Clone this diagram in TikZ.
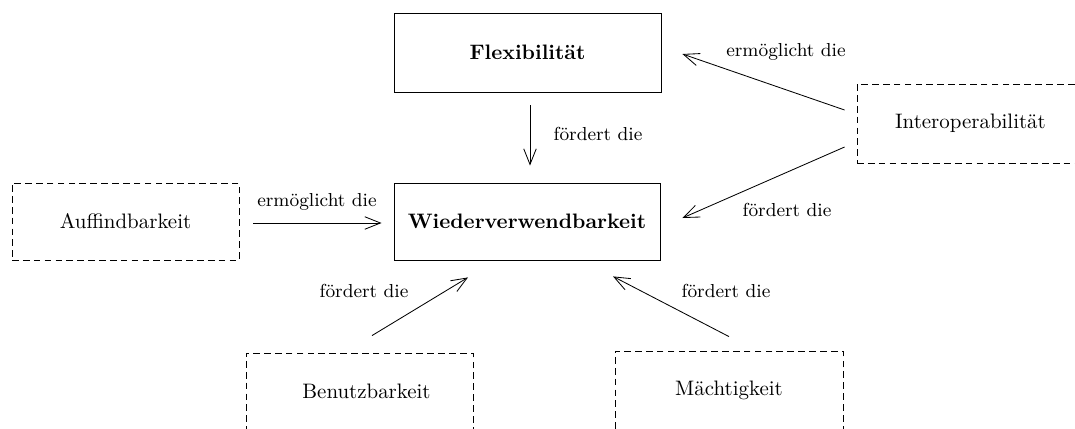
\documentclass[tikz,border=0pt]{standalone}
\usetikzlibrary{arrows.meta}
\newcommand{\pxu}{0.478pt}
\begin{document}
\begin{tikzpicture}[x=0.478pt,y=-0.478pt,
  solidbox/.style={draw, line width=0.4pt, inner sep=0pt, font=\bfseries},
  dashbox/.style={draw, line width=0.4pt, inner sep=0pt, dash pattern=on 3.2pt off 2pt},
  rel/.style={line width=0.4pt, -{Straight Barb[length=7.5pt,width=6pt]}},
  lbl/.style={font=\small, inner sep=0pt}]
  \path[use as bounding box, clip] (0,0) rectangle (1075,428);

  % concept boxes
  \node[solidbox, minimum width=267*\pxu, minimum height=79*\pxu] (flex) at (527.5,52.5) {Flexibilität};
  \node[solidbox, minimum width=266*\pxu, minimum height=77*\pxu] (wied) at (527,221.5) {Wiederverwendbarkeit};
  \node[dashbox, minimum width=227*\pxu, minimum height=79*\pxu] (inter) at (970.5,123.5) {Interoperabilität};
  \node[dashbox, minimum width=227*\pxu, minimum height=77*\pxu] (auf) at (125.5,221.5) {Auffindbarkeit};
  \node[dashbox, minimum width=227*\pxu, minimum height=82*\pxu,
        label={[xshift=7*\pxu, yshift=3*\pxu]center:Benutzbarkeit}] (ben) at (359.5,394) {};
  \node[dashbox, minimum width=228*\pxu, minimum height=82*\pxu,
        label={[yshift=2*\pxu]center:Mächtigkeit}] (mac) at (729,392) {};

  % relations
  \draw[rel] ([shift={(2.5,13)}]flex.south) -- ([shift={(3,-17)}]wied.north);
  \draw[rel] ([shift={(14,1.5)}]auf.east) -- ([shift={(-12,1.5)}]wied.west);
  \draw[rel] ([shift={(-12,-13.5)}]inter.west) -- ([shift={(21,1.5)}]flex.east);
  \draw[rel] ([shift={(-12,23.5)}]inter.west) -- ([shift={(22,-3.5)}]wied.east);
  \draw[rel] ([shift={(12.5,-17)}]ben.north) -- ([shift={(-59,17)}]wied.south);
  \draw[rel] ([shift={(0,-14)}]mac.north) -- ([shift={(86,16)}]wied.south);

  % relation labels
  \node[lbl] (l1) at (598,134) {fördert die};
  \node[lbl] (l2) at (317,202) {ermöglicht die};
  \node[lbl] (l3) at (786,52) {ermöglicht die};
  \node[lbl] (l4) at (787,210) {fördert die};
  \node[lbl] (l5) at (364,291) {fördert die};
  \node[lbl] (l6) at (726,291) {fördert die};
\end{tikzpicture}
\end{document}
